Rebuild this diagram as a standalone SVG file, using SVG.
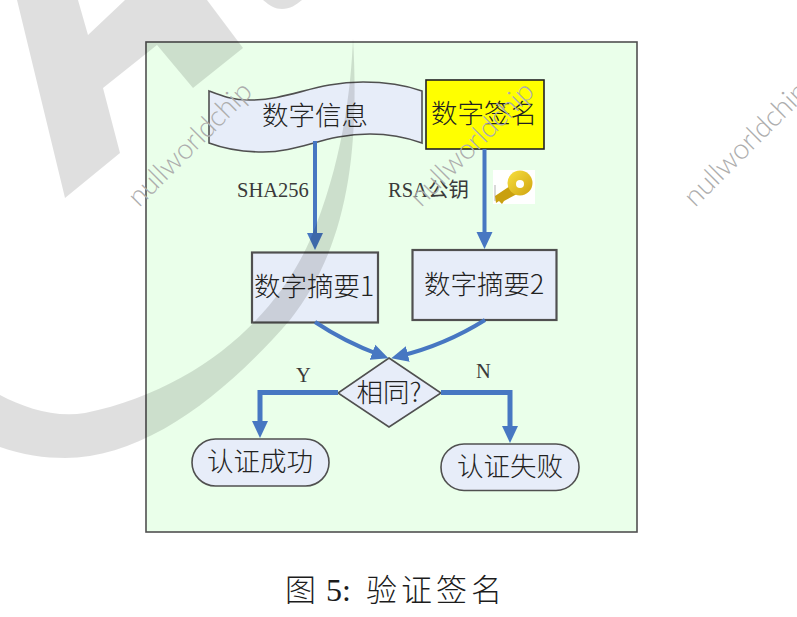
<svg xmlns="http://www.w3.org/2000/svg" width="797" height="617" viewBox="0 0 797 617">
<style>
.n{fill:#e7edf9;stroke:#505050;stroke-width:1.6}
.b{stroke-width:2.2}
.t{font-family:"Noto Sans CJK SC","Liberation Serif",serif;font-weight:300;font-size:26.5px;fill:#222;text-anchor:middle}
.l{font-family:"Liberation Serif","Noto Sans CJK SC",serif;font-size:20.5px;fill:#3a3a3a}
.c{fill:none;stroke:#4777c2;stroke-width:4}
.h{stroke-width:5}
.w{font-family:Lato,"Open Sans",sans-serif;font-weight:300;font-size:28.5px;letter-spacing:-.2px;fill:#adadad}
.g{fill:#000;fill-opacity:.125;fill-rule:evenodd}
</style>
<defs>
<marker id="a" markerUnits="userSpaceOnUse" markerWidth="18" markerHeight="17" viewBox="0 0 18 17" refX="8" refY="8.5" orient="auto"><path d="M0,0.5L17,8.5L0,16.5Z" fill="#4777c2"/></marker>
<linearGradient id="k" x1="0" y1="0" x2="1" y2="1"><stop offset="0" stop-color="#f8e040"/><stop offset="1" stop-color="#d0a410"/></linearGradient>
</defs>
<rect width="797" height="617" fill="#fff"/>
<rect id="panel" x="146" y="42" width="491" height="490" fill="#eaffea" stroke="#505050" stroke-width="1.6"/>

<g id="n1"><path class="n" d="M209,91C222,96 232,100 250,100C290,100 315,82 363,82C390,82 408,86 422,91V143C408,138 392,134 370,134C325,134 300,152 263,152C240,152 225,149 209,143Z"/><text class="t" x="315" y="125">数字信息</text></g>
<g id="n2"><rect x="426" y="80" width="118" height="69" fill="#ffff00" stroke="#222" stroke-width="1.6"/><text class="t" x="484" y="123">数字签名</text></g>
<g id="n3"><rect class="n b" x="252" y="252.5" width="126" height="70"/><text class="t" x="314" y="296">数字摘要1</text></g>
<g id="n4"><rect class="n b" x="412.5" y="250" width="144" height="70"/><text class="t" x="484" y="294">数字摘要2</text></g>
<g id="n5"><path class="n" d="M389,358L441,393L389,427L338,393Z"/><text class="t" x="389" y="402">相同?</text></g>
<g id="n6"><rect class="n" x="192" y="439" width="137" height="47" rx="23.5"/><text class="t" x="260" y="471">认证成功</text></g>
<g id="n7"><rect class="n" x="441" y="444" width="138" height="46.5" rx="23"/><text class="t" x="510" y="476">认证失败</text></g>

<g id="connectors">
<path class="c" d="M315,141V241" marker-end="url(#a)"/>
<path class="c" d="M484.5,149V240" marker-end="url(#a)"/>
<path class="c" d="M315,322Q345,342 380,355" marker-end="url(#a)"/>
<path class="c" d="M485,320Q445,345 400,356" marker-end="url(#a)"/>
<path class="c h" d="M338,392.5H260V429" marker-end="url(#a)"/>
<path class="c h" d="M441,392.5H510V434" marker-end="url(#a)"/>
</g>
<g id="labels">
<text class="l" x="237" y="197">SHA256</text>
<text class="l" x="388" y="197">RSA公钥</text>
<text class="l" x="296" y="382">Y</text>
<text class="l" x="476" y="378">N</text>
</g>
<g id="key">
<rect x="493" y="170" width="42" height="34" fill="#fff"/>
<path d="M495,185V201" stroke="#ccc" stroke-width="1.5"/>
<path d="M495,196L510,186L517,194L504,201L502,204L499,201L496,203Z" fill="#c9a010"/>
<circle cx="520" cy="183" r="12.5" fill="url(#k)"/>
<circle cx="520" cy="184" r="4" fill="#fff"/>
</g>
<g id="watermark">
<path class="g" d="M17,0L65,198L120,153L103,88L157,45L193,88L243,48L207,0H125L88,35L78,0Z"/>
<path class="g" d="M263,0C270,6 275,9 282,9C290,9 296,5 302,0Z"/>
<path class="g" d="M353,38C351,90 342,165 310,240C275,320 195,390 85,413C55,418 25,408 0,395V447C22,455 45,458 65,458C145,458 225,395 290,320C345,250 360,160 353,38Z"/>
<text class="w" transform="translate(139,208) rotate(-45)">nullworldchip</text>
<text class="w" transform="translate(421,208) rotate(-45)">nullworldchip</text>
<text class="w" transform="translate(695,208) rotate(-45)">nullworldchip</text>
</g>
<g id="caption">
<text y="601" font-family="'Noto Sans CJK SC',serif" font-weight="300" font-size="31" fill="#1c1c1c"><tspan x="285">图</tspan><tspan x="366">验</tspan><tspan x="401">证</tspan><tspan x="436">签</tspan><tspan x="471">名</tspan></text>
<text x="326" y="601" font-family="'Liberation Serif',serif" font-size="32" fill="#1c1c1c">5:</text>
</g>
</svg>
